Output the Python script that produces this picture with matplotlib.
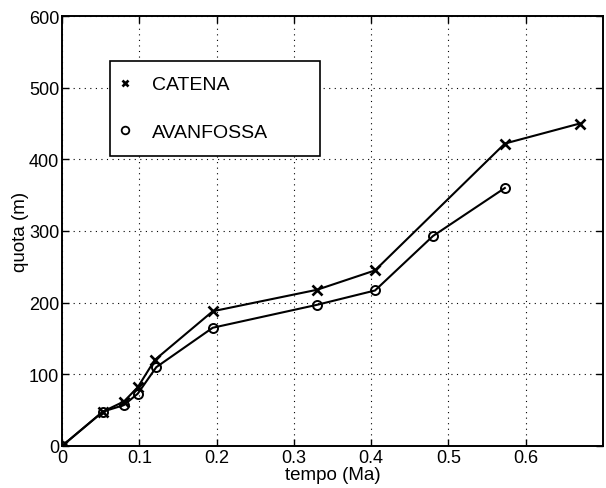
import numpy as np
import matplotlib.pyplot as plt
from matplotlib.lines import Line2D

# data
catena_t = [0, 0.053, 0.080, 0.098, 0.120, 0.195, 0.330, 0.405, 0.573, 0.670]
catena_q = [0, 48, 62, 82, 120, 188, 218, 245, 422, 450]
avanf_t = [0, 0.053, 0.080, 0.098, 0.122, 0.195, 0.330, 0.405, 0.480, 0.573]
avanf_q = [0, 48, 57, 73, 110, 165, 197, 217, 293, 360]
xticks = [0, 0.1, 0.2, 0.3, 0.4, 0.5, 0.6]
xtick_labels = ['0', '0.1', '0.2', '0.3', '0.4', '0.5', '0.6']
yticks = [0, 100, 200, 300, 400, 500, 600]

plt.rcParams['font.family'] = ['Liberation Sans', 'DejaVu Sans']

fig = plt.figure(figsize=(6.06, 4.89), dpi=100)
ax = fig.add_axes([62 / 606, 42 / 489, 541 / 606, 430 / 489])

ax.plot(catena_t, catena_q, '-', color='black', lw=1.5,
        marker='x', ms=6.5, mew=1.9)
ax.plot(avanf_t, avanf_q, '-', color='black', lw=1.5,
        marker='o', ms=6.5, mfc='none', mew=1.4)

ax.set_xlim(0, 0.7)
ax.set_ylim(0, 600)
ax.set_xticks(xticks)
ax.set_xticklabels(xtick_labels)
ax.set_yticks(yticks)
ax.tick_params(direction='in', length=5, width=1, labelsize=13, pad=2,
               top=True, right=True)
ax.grid(True, linestyle=(0, (1, 4)), color='black', lw=0.8)
for s in ax.spines.values():
    s.set_linewidth(1.4)

ax.set_xlabel('tempo (Ma)', fontsize=13.5, labelpad=0)
ax.set_ylabel('quota (m)', fontsize=13.5, labelpad=0)

handles = [Line2D([], [], color='black', marker='x', ls='none', ms=5, mew=1.9),
           Line2D([], [], color='black', marker='o', ls='none', ms=5.5, mfc='none', mew=1.3)]
leg = ax.legend(handles, ['CATENA', 'AVANFOSSA'], loc='upper left',
                bbox_to_anchor=(0.089, 0.679, 0.388, 0.216), mode='expand',
                fontsize=14, fancybox=False,
                edgecolor='black', framealpha=1, borderpad=0.75,
                labelspacing=1.55, handlelength=0, handletextpad=1.42,
                borderaxespad=0)
leg.get_frame().set_linewidth(1.2)

fig.savefig('out.png', dpi=100)
